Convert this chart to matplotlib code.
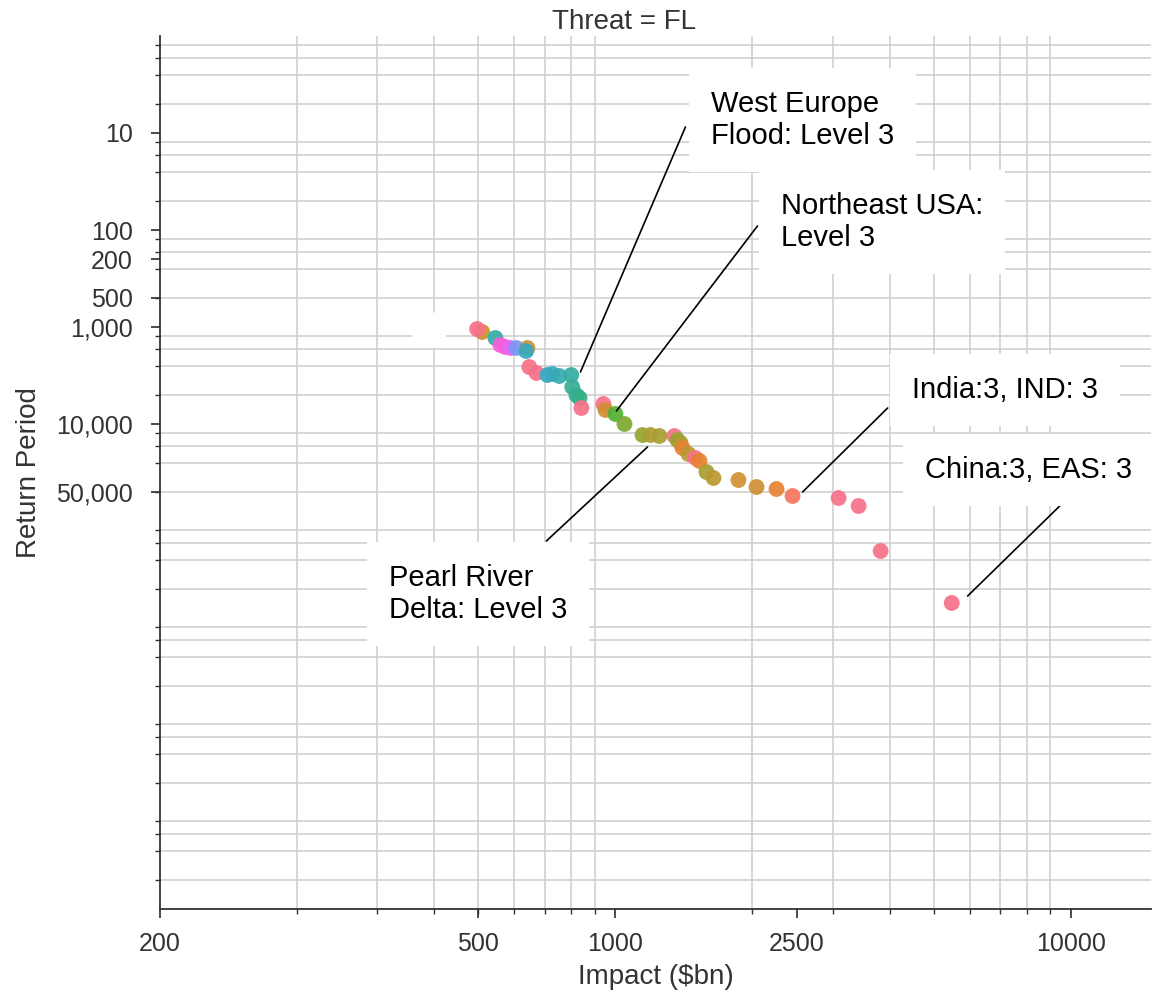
import matplotlib
matplotlib.use("Agg")
import matplotlib.pyplot as plt
from matplotlib.ticker import FixedLocator, LogLocator, NullFormatter
import numpy as np
import seaborn as sns

# scenario results: impact ($bn), return period (years), hue index of the scenario
impact = [510, 497, 545, 559, 573, 588, 606, 641, 637, 647,
          671, 709, 727, 753, 800, 804, 821, 834, 842, 941,
          951, 1000, 1047, 1147, 1194, 1249, 1348, 1369, 1390, 1404,
          1447, 1499, 1530, 1585, 1642, 1863, 2041, 2258, 2449, 3091,
          3420, 3823, 5477]
return_period = [1126, 1048, 1298, 1533, 1607, 1646, 1646, 1646, 1768, 2585,
                 2980, 3125, 3052, 3201, 3125, 4156, 5024, 5395, 6839, 6220,
                 7173, 7886, 10000, 12985, 12985, 13297, 13297, 14622, 15703, 17680,
                 20390, 22410, 24060, 31250, 36040, 37790, 44620, 46770, 55250, 57940,
                 70040, 203900, 700400]
scenario = [3, 0, 12, 21, 21, 20, 17, 3, 14, 0,
            0, 14, 14, 13, 12, 11, 11, 10, 0, 0,
            3, 8, 7, 6, 5, 5, 0, 6, 5, 2,
            4, 0, 2, 5, 4, 3, 3, 2, 1, 0,
            0, 0, 0]

xtick_pos = [100, 500, 1000, 2500, 10000]
xtick_labels = ["200", "500", "1000", "2500", "10000"]
ytick_rp = [10, 100, 200, 500, 1000, 10000, 50000]
ytick_labels = ["10", "100", "200", "500", "1,000", "10,000", "50,000"]

# labelled scenarios: text, target (impact, return period), text anchor, leader line start
labels = ["West Europe\nFlood: Level 3", "Northeast USA:\nLevel 3", "India:3, IND: 3",
          "China:3, EAS: 3", "Pearl River\nDelta: Level 3"]
label_xy = [(838, 2911), (1005, 7345), (2576, 50230), (5936, 593000), (1176, 17260)]
label_text_xy = [(1618, 7.35), (2305, 82.7), (4473, 4459), (4777, 29790), (318.6, 566000)]
label_line_start = [(1425, 8.67), (2051, 90.9), (3961, 6839), (9603, 65220), (705.5, 160700)]
empty_label_xy = (390, 1074)

plt.rcParams["font.family"] = ["Liberation Sans", "DejaVu Sans"]
dark = "#333333"

fig = plt.figure(figsize=(11.59, 9.93), dpi=100)
ax = fig.add_axes([160 / 1159, 1 - 909 / 993, (1151 - 160) / 1159, (909 - 36) / 993])

palette = sns.husl_palette(24)
colors = [palette[k] for k in scenario]
prob = 1 / np.array(return_period, dtype=float)
ax.scatter(impact, prob, c=colors, s=130, alpha=0.92, linewidths=0, zorder=3)

ax.set_xscale("log")
ax.set_yscale("log")
ax.set_xlim(100, 15000)
ax.set_ylim(1e-9, 1)

ax.xaxis.set_major_locator(FixedLocator(xtick_pos))
ax.set_xticklabels(xtick_labels)
ax.xaxis.set_minor_locator(LogLocator(base=10, subs=np.arange(2, 10), numticks=100))
ax.xaxis.set_minor_formatter(NullFormatter())
ax.yaxis.set_major_locator(FixedLocator(1 / np.array(ytick_rp, dtype=float)))
ax.set_yticklabels(ytick_labels)
ax.yaxis.set_minor_locator(LogLocator(base=10, subs=[2, 4, 6, 8], numticks=100))
ax.yaxis.set_minor_formatter(NullFormatter())
ax.xaxis.remove_overlapping_locs = False
ax.yaxis.remove_overlapping_locs = False

ax.grid(False, which="major")
ax.grid(True, which="minor", color="#cfcfcf", lw=1.15)
ax.set_axisbelow(True)

for side in ["top", "right"]:
    ax.spines[side].set_visible(False)
for side in ["left", "bottom"]:
    ax.spines[side].set_color(dark)
    ax.spines[side].set_linewidth(1.3)

ax.tick_params(which="major", length=6.5, width=1.25, color=dark, labelcolor=dark, labelsize=18)
ax.tick_params(which="minor", length=3.5, width=1.0, color=dark)
ax.tick_params(axis="y", which="major", pad=13)
ax.tick_params(axis="x", which="major", pad=10)

ax.set_xlabel("Impact ($bn)", fontsize=20, color=dark, labelpad=6)
ax.set_ylabel("Return Period", fontsize=20, color=dark, labelpad=10)
ax.set_title("Threat = FL", fontsize=20, color=dark, pad=5, x=0.468)

box = dict(boxstyle="square,pad=0.75", fc="white", ec="none")
for text, xy, txy, start in zip(labels, label_xy, label_text_xy, label_line_start):
    ax.annotate("", xy=(xy[0], 1 / xy[1]), xytext=(start[0], 1 / start[1]), textcoords="data",
                zorder=4, arrowprops=dict(arrowstyle="-", color="black", lw=1.2,
                                          shrinkA=0, shrinkB=0))
    ax.text(txy[0], 1 / txy[1], text, fontsize=21, color="black", ha="left", va="center",
            bbox=box, zorder=5)

ax.text(empty_label_xy[0], 1 / empty_label_xy[1], "   ", fontsize=12, ha="center", va="center",
        bbox=dict(boxstyle="round,pad=0.6", fc="white", ec="none"), zorder=5)

fig.savefig("out.png", dpi=100)
